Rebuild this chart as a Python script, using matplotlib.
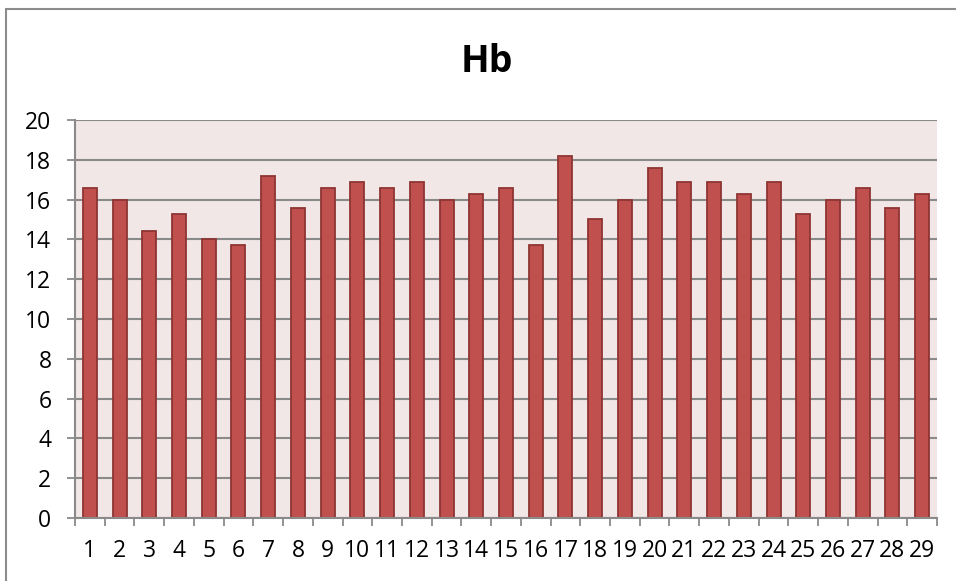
import matplotlib
matplotlib.use("Agg")
import matplotlib.pyplot as plt
from matplotlib.patches import Rectangle
import numpy as np

plt.rcParams['font.family'] = ['Open Sans', 'DejaVu Sans']

title = "Hb"
samples = [str(i) for i in range(1, 30)]
hb_values = [16.6, 16.0, 14.4, 15.3, 14.0, 13.7, 17.2, 15.6, 16.6, 16.9,
             16.6, 16.9, 16.0, 16.3, 16.6, 13.7, 18.2, 15.0, 16.0, 17.6,
             16.9, 16.9, 16.3, 16.9, 15.3, 16.0, 16.6, 15.6, 16.3]
y_ticks = [0, 2, 4, 6, 8, 10, 12, 14, 16, 18, 20]

W, H = 956, 581
fig = plt.figure(figsize=(W / 100, H / 100), dpi=100)
fig.patch.set_facecolor('white')

# chart frame
fig.patches.append(Rectangle((6 / W, -0.05), 1.2, (H - 8.5) / H + 0.05,
                             transform=fig.transFigure, fill=False,
                             edgecolor='#8c8c8c', linewidth=1.5, zorder=0))

ax = fig.add_axes([75 / W, (H - 518) / H, (937 - 75) / W, (518 - 120) / H])
ax.set_facecolor('#F2E7E7')

x = np.arange(1, len(hb_values) + 1)
ax.bar(x, hb_values, width=0.47, color='#C0504D', edgecolor='#8E3533',
       linewidth=1.3, zorder=3)

ax.set_xlim(0.5, len(hb_values) + 0.5)
ax.set_ylim(0, 20)
ax.set_yticks(y_ticks)
ax.set_yticklabels([str(v) for v in y_ticks])
ax.set_xticks(x)
ax.set_xticklabels(samples)
ax.set_xticks(np.arange(0.5, len(hb_values) + 1.0, 1.0), minor=True)

ax.grid(axis='y', color='#8a8a8a', linewidth=1.5, zorder=1)
ax.set_axisbelow(True)

for s in ['top', 'right']:
    ax.spines[s].set_visible(False)
for s in ['left', 'bottom']:
    ax.spines[s].set_color('#8a8a8a')
    ax.spines[s].set_linewidth(1.5)
    ax.spines[s].set_zorder(4)

ax.tick_params(axis='y', length=6, width=1.3, color='#8a8a8a', pad=11,
               labelsize=16.5, labelcolor='black')
ax.tick_params(axis='x', which='major', length=0, pad=15,
               labelsize=16.5, labelcolor='black')
ax.tick_params(axis='x', which='minor', length=6, width=1.3, color='#8a8a8a')

fig.text(487 / W, 1 - 62 / H, title, ha='center', va='center',
         fontsize=27, fontweight='bold', color='black')

fig.savefig('out.png', dpi=100)
